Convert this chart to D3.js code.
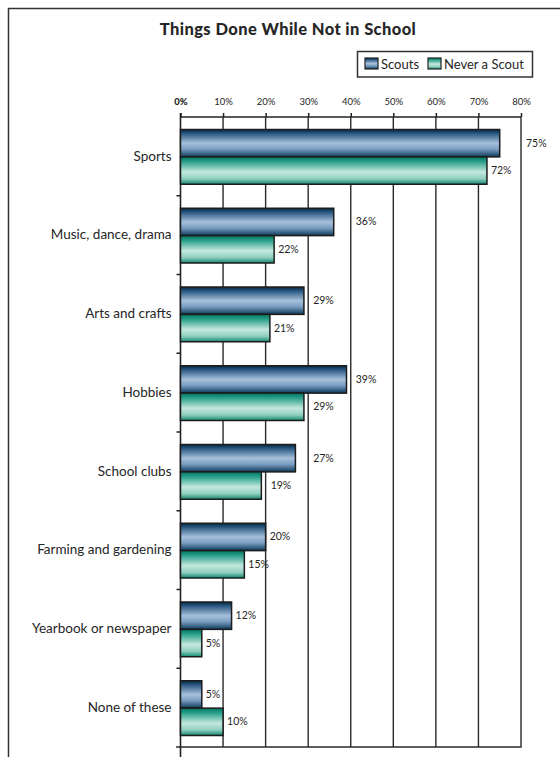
<!DOCTYPE html>
<html>
<head>
<meta charset="utf-8">
<script src="https://cdn.jsdelivr.net/npm/d3@7"></script>
<style>
  html, body { margin: 0; padding: 0; background: #fff; }
  svg { display: block; }
  text { fill: #262626; }
</style>
</head>
<body>
<svg id="chart" width="560" height="757"></svg>
<script>
// data
const categories = [
  'Sports', 'Music, dance, drama', 'Arts and crafts', 'Hobbies',
  'School clubs', 'Farming and gardening', 'Yearbook or newspaper', 'None of these'
];
const seriesNames = ['Scouts', 'Never a Scout'];
const scouts = [75, 36, 29, 39, 27, 20, 12, 5];
const neverScout = [72, 22, 21, 29, 19, 15, 5, 10];
const ticks = [0, 10, 20, 30, 40, 50, 60, 70, 80];
const title = 'Things Done While Not in School';

const svg = d3.select('#chart');
const font = 'Lato, "Noto Sans", sans-serif';

// scales
const x = d3.scaleLinear().domain([0, 80]).range([180.5, 521]);
const y = d3.scaleBand().domain(categories).range([117, 747]);
const ySub = d3.scaleBand().domain(seriesNames).range([12.5, y.bandwidth() - 11.5]);

// gradients for the tube-like bars
const defs = svg.append('defs');
const gradStops = {
  scouts: [[0, '#03263f'], [0.14, '#285680'], [0.5, '#a6c0da'], [0.72, '#7a9ec2'], [1, '#0c3858']],
  never: [[0, '#00755f'], [0.18, '#2aa08b'], [0.55, '#c4e8dd'], [0.8, '#8ecfbe'], [1, '#128670']]
};
Object.entries(gradStops).forEach(([id, stops]) => {
  defs.append('linearGradient')
    .attr('id', 'g-' + id)
    .attr('x1', 0).attr('y1', 0).attr('x2', 0).attr('y2', 1)
    .selectAll('stop')
    .data(stops)
    .join('stop')
    .attr('offset', d => d[0])
    .attr('stop-color', d => d[1]);
});
const fillFor = { 'Scouts': 'url(#g-scouts)', 'Never a Scout': 'url(#g-never)' };

// outer frame (top and left only)
svg.append('path')
  .attr('d', 'M8.5,757 V8.5 H560')
  .attr('fill', 'none')
  .attr('stroke', '#333')
  .attr('stroke-width', 1.5);

// title
svg.append('text')
  .attr('x', 288).attr('y', 35)
  .attr('text-anchor', 'middle')
  .attr('font-family', font)
  .attr('font-weight', 900)
  .attr('font-size', 16.5)
  .attr('letter-spacing', 0.4)
  .text(title);

// legend
const legend = svg.append('g');
legend.append('rect')
  .attr('x', 357.5).attr('y', 51.5).attr('width', 175).attr('height', 25.5)
  .attr('fill', '#fff').attr('stroke', '#333').attr('stroke-width', 1.5);
const legendX = [365, 428];
seriesNames.forEach((name, i) => {
  legend.append('rect')
    .attr('x', legendX[i]).attr('y', 58).attr('width', 13).attr('height', 11)
    .attr('fill', fillFor[name]).attr('stroke', '#222').attr('stroke-width', 1.2);
  legend.append('text')
    .attr('x', legendX[i] + 16).attr('y', 68.5)
    .attr('font-family', font).attr('font-size', 13)
    .text(name);
});

// top axis with tick labels
const axisTop = d3.axisTop(x)
  .tickValues(ticks)
  .tickSize(4)
  .tickPadding(8)
  .tickFormat(d => d + '%');
const gTop = svg.append('g')
  .attr('transform', 'translate(0,117)')
  .call(axisTop);
gTop.select('.domain').attr('stroke', '#222').attr('stroke-width', 1.5).attr('d', `M${x(0)},0H${x(80)}`);
gTop.selectAll('.tick line').attr('stroke', '#222').attr('stroke-width', 1.5);
gTop.selectAll('.tick text')
  .attr('font-family', font)
  .attr('font-size', 9.5)
  .attr('fill', '#333')
  .attr('font-weight', d => d === 0 ? 900 : 400);

// vertical gridlines
svg.append('g')
  .selectAll('line')
  .data(ticks.filter(t => t > 0))
  .join('line')
  .attr('x1', d => x(d)).attr('x2', d => x(d))
  .attr('y1', 117).attr('y2', 747)
  .attr('stroke', '#2a2a2a').attr('stroke-width', 1.4);

// bottom line
svg.append('line')
  .attr('x1', 176).attr('x2', x(80) + 0.7)
  .attr('y1', 747).attr('y2', 747)
  .attr('stroke', '#2a2a2a').attr('stroke-width', 1.5);

// left category axis
const axisLeft = d3.axisLeft(y).tickSize(0).tickPadding(9);
const gLeft = svg.append('g')
  .attr('transform', `translate(${x(0)},0)`)
  .call(axisLeft);
gLeft.select('.domain').remove();
gLeft.selectAll('.tick text')
  .attr('font-family', font)
  .attr('font-size', 13.5)
  .attr('fill', '#262626');
svg.append('line')
  .attr('x1', x(0)).attr('x2', x(0))
  .attr('y1', 113).attr('y2', 757)
  .attr('stroke', '#222').attr('stroke-width', 1.6);
// small ticks between categories
svg.append('g')
  .selectAll('line')
  .data(categories.slice(1))
  .join('line')
  .attr('x1', x(0) - 4).attr('x2', x(0))
  .attr('y1', d => y(d)).attr('y2', d => y(d))
  .attr('stroke', '#222').attr('stroke-width', 1.5);

// bars
const rows = categories.flatMap((c, i) => [
  { cat: c, series: 'Scouts', value: scouts[i] },
  { cat: c, series: 'Never a Scout', value: neverScout[i] }
]);

svg.append('g')
  .selectAll('rect')
  .data(rows)
  .join('rect')
  .attr('x', x(0))
  .attr('y', d => y(d.cat) + ySub(d.series))
  .attr('width', d => x(d.value) - x(0))
  .attr('height', ySub.bandwidth())
  .attr('fill', d => fillFor[d.series])
  .attr('stroke', '#1c1c1c')
  .attr('stroke-width', 1.5);

// value labels, nudged past a gridline when they would sit on it
const labels = svg.append('g')
  .selectAll('text')
  .data(rows)
  .join('text')
  .attr('y', d => y(d.cat) + ySub(d.series) + ySub.bandwidth() / 2 + 3.5)
  .attr('font-family', font)
  .attr('font-size', 10.5)
  .attr('fill', '#333')
  .text(d => d.value + '%');

labels.each(function(d) {
  const w = this.getComputedTextLength();
  const end = x(d.value);
  let lx = end + 4;
  // the outer gridline wants a bit more room than the inner ones
  const hit = ticks.find(t => {
    const margin = t === 80 ? 4 : -w * 0.25;
    return x(t) > end + 0.5 && x(t) >= lx - 1 && x(t) <= lx + w + margin;
  });
  if (hit !== undefined) lx = x(hit) + 5;
  d3.select(this).attr('x', lx);
});
</script>
</body>
</html>
